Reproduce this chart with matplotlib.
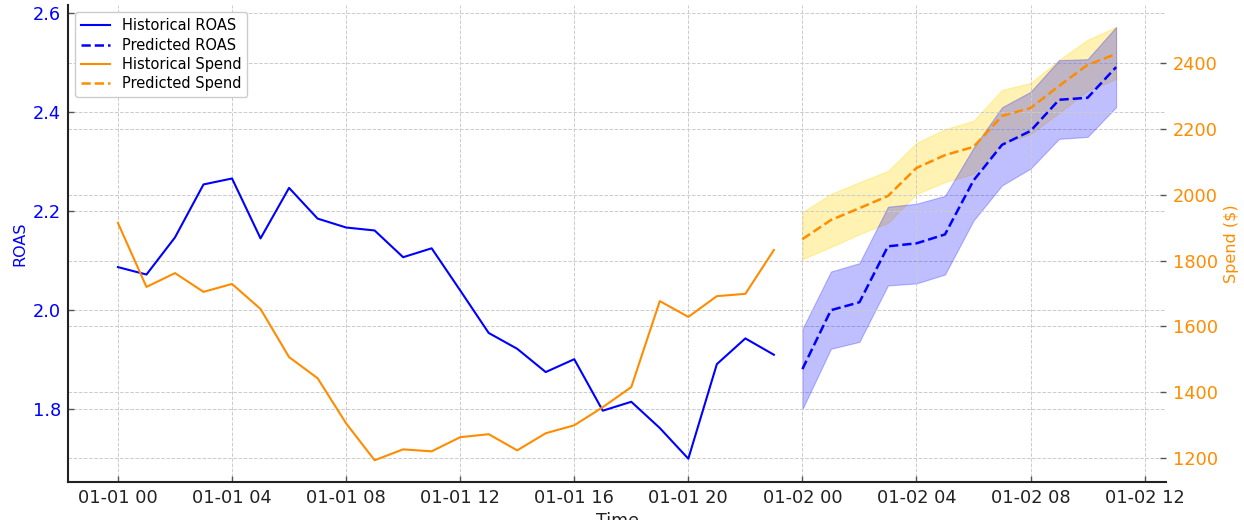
import matplotlib
matplotlib.use("Agg")
import matplotlib.pyplot as plt
import matplotlib.dates as mdates
import pandas as pd

# Hourly history (day 1) and 12-hour forecast (day 2)
hist_times = pd.date_range("2024-01-01 00:00", periods=24, freq="h")
pred_times = pd.date_range("2024-01-02 00:00", periods=12, freq="h")

hist_roas = [2.087, 2.072, 2.147, 2.254, 2.266, 2.145, 2.247, 2.185, 2.167, 2.161,
             2.107, 2.125, 2.040, 1.954, 1.922, 1.875, 1.901, 1.797, 1.815, 1.762,
             1.700, 1.891, 1.943, 1.910]
hist_spend = [1914, 1720, 1762, 1705, 1729, 1653, 1507, 1443, 1306, 1194,
              1227, 1221, 1264, 1273, 1224, 1276, 1300, 1355, 1416, 1677,
              1629, 1692, 1699, 1832]

pred_roas = [1.881, 2.000, 2.016, 2.129, 2.135, 2.153, 2.262, 2.334, 2.362, 2.425, 2.429, 2.491]
pred_roas_lo = [1.800, 1.922, 1.936, 2.050, 2.054, 2.072, 2.181, 2.252, 2.286, 2.346, 2.350, 2.410]
pred_roas_hi = [1.962, 2.078, 2.095, 2.209, 2.215, 2.231, 2.328, 2.410, 2.441, 2.505, 2.507, 2.572]

pred_spend = [1865, 1923, 1959, 1996, 2081, 2120, 2145, 2239, 2263, 2330, 2394, 2427]
pred_spend_lo = [1804, 1841, 1880, 1914, 2002, 2038, 2063, 2154, 2184, 2248, 2315, 2351]
pred_spend_hi = [1947, 2002, 2038, 2072, 2157, 2199, 2224, 2318, 2339, 2409, 2470, 2509]

ROAS_COLOR = "blue"
SPEND_COLOR = "darkorange"
ROAS_LIM = (1.653, 2.616)
SPEND_LIM = (1128, 2575)

fig = plt.figure(figsize=(12.44, 5.2), dpi=100)
ax = fig.add_axes([0.0547, 0.0731, 0.8826, 0.9169])
ax2 = ax.twinx()      # spend axis (ticks, grid, band)
ax3 = ax.twinx()      # spend lines, drawn above everything
ax2.set_zorder(0)
ax.set_zorder(1)
ax3.set_zorder(2)
ax.patch.set_visible(False)
ax3.patch.set_visible(False)

# ROAS on the left axis
l1, = ax.plot(hist_times, hist_roas, color=ROAS_COLOR, lw=1.5, label="Historical ROAS")
l2, = ax.plot(pred_times, pred_roas, color=ROAS_COLOR, lw=1.8, ls="--", label="Predicted ROAS")
ax.fill_between(pred_times, pred_roas_lo, pred_roas_hi, color=ROAS_COLOR, alpha=0.25, lw=0.8)

# Spend on the right axis
ax2.fill_between(pred_times, pred_spend_lo, pred_spend_hi, color="gold", alpha=0.3, lw=0.8)
l3, = ax3.plot(hist_times, hist_spend, color=SPEND_COLOR, lw=1.5, label="Historical Spend")
l4, = ax3.plot(pred_times, pred_spend, color=SPEND_COLOR, lw=1.8, ls="--", label="Predicted Spend")

start = pd.Timestamp("2024-01-01 00:00")
ax.set_xlim(start - pd.Timedelta(hours=1.75), start + pd.Timedelta(hours=36.75))
ax.set_ylim(*ROAS_LIM)
ax2.set_ylim(*SPEND_LIM)
ax3.set_ylim(*SPEND_LIM)

ax.xaxis.set_major_locator(mdates.HourLocator(byhour=[0, 4, 8, 12, 16, 20]))
ax.xaxis.set_major_formatter(mdates.DateFormatter("%m-%d %H"))
ax.set_yticks([1.8, 2.0, 2.2, 2.4, 2.6])
ax2.set_yticks([1200, 1400, 1600, 1800, 2000, 2200, 2400])
ax3.set_yticks([])

grid_kw = dict(color="#cccccc", linestyle="--", linewidth=0.7)
ax.grid(True, **grid_kw)
ax2.grid(True, axis="y", **grid_kw)

for a in (ax, ax2):
    a.tick_params(direction="in", length=4, width=1, color="#555555", labelsize=12.8, pad=5)
for a in (ax, ax2, ax3):
    a.spines["top"].set_visible(False)
    a.spines["right"].set_visible(False)
for a in (ax2, ax3):
    a.spines["left"].set_visible(False)
    a.spines["bottom"].set_visible(False)
for side in ("left", "bottom"):
    ax.spines[side].set_linewidth(1.5)
    ax.spines[side].set_color("#222222")

ax.tick_params(axis="y", labelcolor=ROAS_COLOR)
ax.tick_params(axis="x", labelcolor="#222222")
ax2.tick_params(axis="y", labelcolor=SPEND_COLOR)

ax.set_ylabel("ROAS", color=ROAS_COLOR, fontsize=11.5)
ax2.set_ylabel("Spend ($)", color=SPEND_COLOR, fontsize=11.5)
ax.set_xlabel("Time", fontsize=12.5, color="#222222")

ax3.legend(handles=[l1, l2, l3, l4], loc="upper left", fontsize=10.5, framealpha=1.0,
           edgecolor="#cccccc", labelspacing=0.3)

fig.savefig("out.png", dpi=100)
